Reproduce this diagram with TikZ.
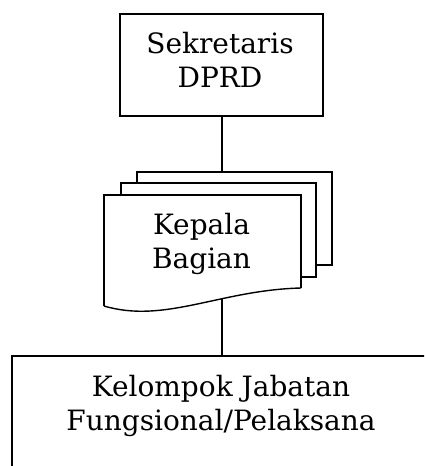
\documentclass[tikz,border=0pt]{standalone}
\usepackage{fontspec}
\setmainfont{DejaVu Serif}
\begin{document}
\begin{tikzpicture}[x=1pt,y=-1pt,
  line/.style={draw=black,line width=1.4pt,line join=miter},
  label/.style={align=center,font=\fontsize{28}{34}\selectfont,inner sep=0pt,anchor=base}]
\useasboundingbox (0,0) rectangle (424,466);
\clip (0,0) rectangle (424,466);

% Sekretaris box
\draw[line] (120,14) rectangle (323,116);
\node[label] (sek) at (220,87) {Sekretaris\\DPRD};
\coordinate (sekB) at (222,116);

% stacked documents: back, middle, front
\draw[line,fill=white] (137,265) -- (137,172) -- (332,172) -- (332,265) -- cycle;
\coordinate (docT) at (222,172);
\draw[line,fill=white] (121,277) -- (121,183) -- (316,183) -- (316,277) -- cycle;
\fill[white] (104,306) -- (104,195) -- (301,195) -- (301,288)
  .. controls (220,290) and (165,324) .. cycle;
\draw[line] (104,306) -- (104,195) -- (301,195) -- (301,288);
\draw[line] (301,288) .. controls (220,290) and (165,324) .. (104,306);
\node[label] (kb) at (201.5,268) {Kepala\\Bagian};
\coordinate (docB) at (222,298);

% Kelompok box (runs off the page)
\draw[line width=1.7pt] (12,480) -- (12,356) -- (440,356);
\coordinate (kelT) at (222,356);
\node[label] (kel) at (221,430) {Kelompok Jabatan\\Fungsional/Pelaksana};

% connectors
\draw[line] (sekB) -- (docT);
\draw[line] (docB) -- (kelT);
\end{tikzpicture}
\end{document}
